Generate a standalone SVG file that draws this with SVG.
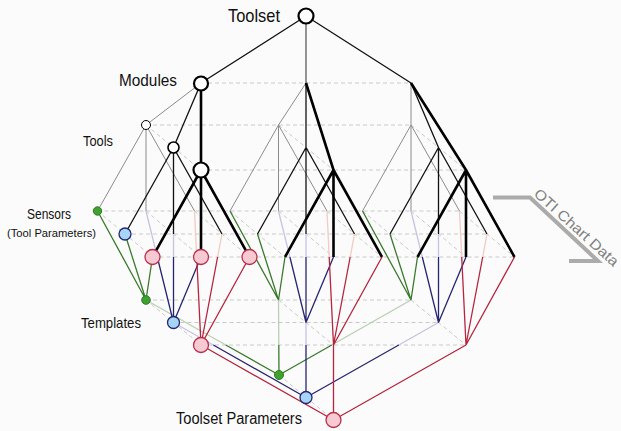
<svg xmlns="http://www.w3.org/2000/svg" width="621" height="431" viewBox="0 0 621 431">
<style>
.lbl{font-family:"Liberation Sans",Arial,sans-serif;fill:#111}
.d{stroke:#cacaca;stroke-width:1;stroke-dasharray:4 3;fill:none}
.g{stroke:#8c8c8c;stroke-width:1;fill:none}
.k{stroke:#111;stroke-width:1.3;fill:none}
.K{stroke:#000;stroke-width:2.6;fill:none}
.gr{stroke:#3a7a2c;stroke-width:1.3;fill:none}
.grp{stroke:#b9cfb3;stroke-width:1.3;fill:none}
.nv{stroke:#27256f;stroke-width:1.3;fill:none}
.nvp{stroke:#c6c2e2;stroke-width:1.3;fill:none}
.rd{stroke:#b5253f;stroke-width:1.3;fill:none}
.rdp{stroke:#f2cbc2;stroke-width:1.3;fill:none}
.wn{fill:#fff;stroke:#000}
.gn{fill:#3fa12f;stroke:#2d7d22;stroke-width:1}
.bn{fill:#a6d5f7;stroke:#262670;stroke-width:1.3}
.pn{fill:#f7c9d3;stroke:#b6304c;stroke-width:1.3}
</style>
<rect width="621" height="431" fill="#fbfbfb"/>
<g id="grid">
<path class="d" d="M201 83H411M146 125H411M201 170H466M97.5 211H459.5M125 234H487M152.5 257H514.5M146 300H411M173.5 322.5H438.5M201 345H466"/>
<path class="d" d="M146 125L201 170M278.5 125L333.5 170M411 125L466 170M97.5 211L152.5 257M146 211L201 257M194.5 211L249.5 257M230 211L285 257M278.5 211L333.5 257M327 211L382 257M362.5 211L417.5 257M411 211L466 257M459.5 211L514.5 257M146 300L201 345M278.5 300L333.5 345M411 300L466 345M279 375L333.5 420"/>
</g>
<g id="connectors">
<path class="grp" d="M146 300L225.8 345M278.5 300L278.8 345M411 300L331.8 345"/>
<path class="nvp" d="M146 211L157.3 257M173.5 234L173.5 257M278.5 211L289.9 257M306 234L306 257M411 211L422.3 257M438.5 234L438.5 257M173.5 322.5L213.3 345M306 322.5L306 345M438.5 322.5L398.8 345"/>
<path class="rdp" d="M194.5 211L196.7 257M222 234L217.6 257M327 211L329.2 257M354.5 234L350.2 257M459.5 211L461.7 257M487 234L482.7 257"/>
<path class="gr" d="M97.5 211L146 300M125 234L146 300M152.5 257L146 300M230 211L278.5 300M257.5 234L278.5 300M285 257L278.5 300M362.5 211L411 300M390 234L411 300M417.5 257L411 300M225.8 345L279 375M278.8 345L279 375M331.8 345L279 375"/>
<path class="nv" d="M157.3 257L173.5 322.5M173.5 257L173.5 322.5M201 257L173.5 322.5M289.9 257L306 322.5M306 257L306 322.5M333.5 257L306 322.5M422.3 257L438.5 322.5M438.5 257L438.5 322.5M466 257L438.5 322.5M213.3 345L306 397.5M306 345L306 397.5M398.8 345L306 397.5"/>
<path class="rd" d="M196.7 257L201 345M217.6 257L201 345M249.5 257L201 345M329.2 257L333.5 345M350.2 257L333.5 345M382 257L333.5 345M461.7 257L466 345M482.7 257L466 345M514.5 257L466 345M201 345L333.5 420M333.5 345L333.5 420M466 345L333.5 420"/>
<path class="g" d="M201 83L146 125M306 83L278.5 125M411 83L411 125M146 125L97.5 211M146 125L146 211M146 125L194.5 211M278.5 125L230 211M278.5 125L278.5 211M278.5 125L327 211M411 125L362.5 211M411 125L411 211M411 125L459.5 211"/>
<path class="g" style="stroke:#7a7a7a;stroke-width:1.6" d="M306 16V83"/>
<path class="k" d="M306 16L201 83M306 16L411 83M201 83L173.5 147.5M306 83L306 147.5M411 83L438.5 147.5M173.5 147.5L125 234M173.5 147.5L173.5 234M173.5 147.5L222 234M306 147.5L257.5 234M306 147.5L306 234M306 147.5L354.5 234M438.5 147.5L390 234M438.5 147.5L438.5 234M438.5 147.5L487 234"/>
<path class="K" d="M201 83L201 170M306 83L333.5 170M411 83L466 170M201 170L152.5 257M201 170L201 257M201 170L249.5 257M333.5 170L285 257M333.5 170L333.5 257M333.5 170L382 257M466 170L417.5 257M466 170L466 257M466 170L514.5 257"/>
</g>
<g id="toolset"><circle class="wn" cx="306" cy="16" r="7.5" stroke-width="2.2"/><text class="lbl" x="228" y="22" font-size="18.5" textLength="52" lengthAdjust="spacingAndGlyphs">Toolset</text></g>
<g id="module"><circle class="wn" cx="201" cy="83.5" r="7" stroke-width="2.2"/><text class="lbl" x="119" y="86" font-size="16" textLength="58" lengthAdjust="spacingAndGlyphs">Modules</text></g>
<g id="tool-back"><circle class="wn" cx="146" cy="125" r="4.5" stroke="#555" stroke-width="1"/></g>
<g id="tool-mid"><circle class="wn" cx="173.5" cy="147.5" r="5.5" stroke-width="1.6"/></g>
<g id="tool-front"><circle class="wn" cx="201" cy="170" r="7.5" stroke-width="2.2"/></g>
<g id="tools-label"><text class="lbl" x="83" y="146" font-size="14.5" textLength="30" lengthAdjust="spacingAndGlyphs">Tools</text></g>
<g id="sensor-green"><circle class="gn" cx="97.5" cy="211" r="4.2"/></g>
<g id="sensor-blue"><circle class="bn" cx="125" cy="234" r="6"/></g>
<g id="sensor-pink-1"><circle class="pn" cx="152.5" cy="257" r="7.5"/></g>
<g id="sensor-pink-2"><circle class="pn" cx="201" cy="257" r="7.5"/></g>
<g id="sensor-pink-3"><circle class="pn" cx="249.5" cy="257" r="7.5"/></g>
<g id="sensors-label"><text class="lbl" x="27" y="219" font-size="14" textLength="44" lengthAdjust="spacingAndGlyphs">Sensors</text><text class="lbl" x="7" y="237" font-size="11.5" textLength="89" lengthAdjust="spacingAndGlyphs">(Tool Parameters)</text></g>
<g id="template-green"><circle class="gn" cx="146" cy="300" r="4.3"/></g>
<g id="template-blue"><circle class="bn" cx="173.5" cy="322.5" r="6"/></g>
<g id="template-pink"><circle class="pn" cx="201" cy="345" r="7.5"/></g>
<g id="templates-label"><text class="lbl" x="81" y="328" font-size="14.5" textLength="60" lengthAdjust="spacingAndGlyphs">Templates</text></g>
<g id="param-green"><circle class="gn" cx="279" cy="375" r="4.5"/></g>
<g id="param-blue"><circle class="bn" cx="306" cy="397.5" r="6"/></g>
<g id="param-pink"><circle class="pn" cx="333.5" cy="420" r="7.5"/></g>
<g id="params-label"><text class="lbl" x="176" y="424" font-size="16" textLength="126" lengthAdjust="spacingAndGlyphs">Toolset Parameters</text></g>
<g id="oti-chart-data">
<polyline points="493,197.5 530,197.5 598,261 569,261" fill="none" stroke="#ababab" stroke-width="4"/>
<text class="lbl" transform="translate(533,195) rotate(42)" font-size="14.5" fill="#808080" style="fill:#808080" textLength="108" lengthAdjust="spacingAndGlyphs">OTI Chart Data</text>
</g>
</svg>
